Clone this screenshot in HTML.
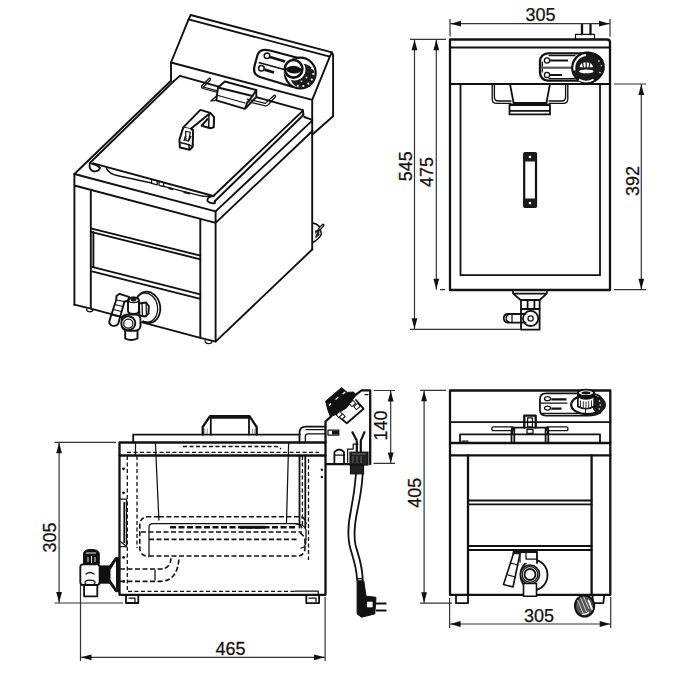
<!DOCTYPE html>
<html><head><meta charset="utf-8"><style>
html,body{margin:0;padding:0;background:#fff;width:700px;height:700px;overflow:hidden}
svg{display:block}
.o{fill:none;stroke:#111;stroke-width:1.8;stroke-linejoin:round;stroke-linecap:round}
.t{fill:none;stroke:#111;stroke-width:1.25;stroke-linejoin:round;stroke-linecap:round}
.d{fill:none;stroke:#333;stroke-width:1.2}
.h{fill:none;stroke:#111;stroke-width:1.6;stroke-dasharray:5 2.5}
.hf{fill:none;stroke:#111;stroke-width:1.3;stroke-dasharray:4 2.5}
.a{fill:#111;stroke:none}
.k{fill:#111;stroke:#111;stroke-width:1}
.iso .o{stroke-width:1.9}
text{font-family:"Liberation Sans",sans-serif;font-size:18px;fill:#111;stroke:#111;stroke-width:0.25}
</style></head><body>
<svg width="700" height="700" viewBox="0 0 700 700">

<!-- ================= TOP VIEW (plan) ================= -->
<g id="plan">
  <path class="o" d="M450 39.5 H607 Q610 39.5 610 42.5 V290 H450 Z" style="stroke-width:2.3"/>
  <path class="o" d="M450 47.5 H610"/>
  <path class="o" d="M450 84 H610"/>
  <path class="o" d="M460.5 84 V275.2 H600 V84"/>
  <!-- plug -->
  <rect class="t" x="575.5" y="34.3" width="19" height="5" />
  <path class="o" d="M582 24.5 V34.3 M590.5 24.5 V34.3" style="stroke-width:2.3"/>
  <!-- control panel -->
  <path class="o" d="M548 53.3 H590 A13.7 13.7 0 0 1 590 80.7 H548 A8 8 0 0 1 540 72.7 V61.3 A8 8 0 0 1 548 53.3 Z" style="stroke-width:2.3"/>
  <path class="t" d="M549 55.5 H575 M549 78.5 H575 M542.3 62 V72"/>
  <circle cx="547" cy="60.5" r="2.6" class="t"/>
  <circle cx="547" cy="75" r="2.6" class="t"/>
  <path d="M550 60.5 H568 M550 75 H562" stroke="#111" stroke-width="2.2"/>
  <path d="M541.5 67.7 H573" stroke="#555" stroke-width="2.2"/>
  <circle cx="587.3" cy="67.8" r="15.2" fill="#1a1a1a" stroke="#111" stroke-width="2"/>
  <path d="M574.6 70.5 A12.8 12.8 0 0 1 586 55.1" fill="none" stroke="#fff" stroke-width="2"/>
  <path d="M579 79.6 Q586.5 83.6 593.5 79.4" fill="none" stroke="#fff" stroke-width="1.8"/>
  <path d="M579.6 67.3 Q580 62.5 586 62.3 Q592.6 62.5 593 67.3 Z" fill="#fff"/>
  <path d="M586.2 62 V67.5 M582.6 63 L583.5 67.5 M589.8 63 L589 67.5" stroke="#1a1a1a" stroke-width="1.2"/>
  <ellipse cx="586.3" cy="71.4" rx="7.2" ry="1.9" fill="#fff"/>
  <path d="M598.5 61.5 L599.5 60.5 M600.8 65.8 H602 M599.5 72 L600.5 73" stroke="#fff" stroke-width="1.1"/>
  <!-- basket handle -->
  <path class="t" style="stroke-width:1.35" d="M492.2 84 V99 Q492.2 103.4 496.6 103.4 H511 M494.4 84 V97 Q494.4 101 498.4 101 H511"/>
  <path class="t" style="stroke-width:1.35" d="M567.8 84 V99 Q567.8 103.4 563.4 103.4 H549 M565.6 84 V97 Q565.6 101 561.6 101 H549"/>
  <path class="o" d="M510 84 L513.6 103 H546.4 L550 84"/>
  <path class="o" d="M509.5 105 V114.4 H550 V105 Z M509.5 110.9 H550 M513.6 103 V105 M546.4 103 V105"/>
  <!-- plan lid handle -->
  <rect x="524.2" y="153" width="11.8" height="54" rx="1" fill="none" stroke="#111" stroke-width="2.2"/>
  <rect x="523.5" y="152.5" width="13" height="9" rx="1" fill="#1a1a1a"/>
  <rect x="523.5" y="198.5" width="13" height="9" rx="1" fill="#1a1a1a"/>
  <circle cx="530" cy="157" r="1.3" fill="#fff"/>
  <circle cx="530" cy="203" r="1.3" fill="#fff"/>
  <!-- drain -->
  <path class="o" d="M513 290 V293.6 H546.8 V290 M513 293.6 L520.7 300 H539.6 L546.8 293.6"/>
  <path class="o" d="M521 300 V309 H539.6 V300 M527.6 300 V309 M534.4 300 V309"/>
  <path class="o" d="M521 309 V329.6 H539.6 V309"/>
  <circle cx="530.6" cy="318.4" r="7.6" class="o"/>
  <circle cx="530.6" cy="318.4" r="2.6" class="t"/>
  <path class="o" d="M525.5 314 H507.5 A4.4 4.4 0 0 0 507.5 322.7 H525.5"/>
  <path class="t" d="M509 314.5 A4 4 0 0 0 509 322.2 M512 314 V322.7"/>
</g>

<!-- plan dimensions -->
<g id="plandim">
  <path class="d" d="M450 19 V36.5 M610 19 V36.5 M450 23.7 H610"/>
  <path class="a" d="M450.5 23.7 L461 20.8 L461 26.6 Z M609.5 23.7 L599 20.8 L599 26.6 Z"/>
  <text x="540.5" y="20.8" text-anchor="middle">305</text>
  <path class="d" d="M410 39.3 H446 M414.5 39.3 V329.3 M436.3 39.3 V289.7 M440 289.7 H445 M410 329.3 H520"/>
  <path class="a" d="M414.5 39.8 L411.6 50.3 L417.4 50.3 Z M414.5 328.8 L411.6 318.3 L417.4 318.3 Z"/>
  <path class="a" d="M436.3 39.8 L433.4 50.3 L439.2 50.3 Z M436.3 289.2 L433.4 278.7 L439.2 278.7 Z"/>
  <text transform="translate(411.5 166.3) rotate(-90)" text-anchor="middle">545</text>
  <text transform="translate(433.2 172) rotate(-90)" text-anchor="middle">475</text>
  <path class="d" d="M614 84 H646 M614 289.7 H646 M641.3 84 V289.7"/>
  <path class="a" d="M641.3 84.5 L638.4 95 L644.2 95 Z M641.3 289.2 L638.4 278.7 L644.2 278.7 Z"/>
  <text transform="translate(639.2 181.1) rotate(-90)" text-anchor="middle">392</text>
</g>

<!-- ================= ISO VIEW ================= -->
<g id="iso" class="iso">
  <!-- back panel -->
  <path class="o" d="M171 80.7 V62.5 L188.6 19.3 L190.7 15 L331.9 52.4 L333.1 55 V116.2 L312.4 134.5"/>
  <path class="o" d="M188.6 19.3 L329.8 56.7 L331.9 52.4 M171 62.5 L312.2 99.9 L329.8 56.7 M312.2 99.9 V249.3"/>
  <!-- worktop -->
  <path class="o" d="M171 80.7 L74.4 174 L215.6 211.4 L312.2 120.6"/>
  <path class="o" d="M74.4 174 V305 M74.4 185.5 L215.6 222.9 L312.4 131 M215.6 211.4 V341.4"/>
  <path class="o" d="M304.3 117 L312.2 119.8"/>
  <!-- cabinet -->
  <path class="o" d="M90.8 189.8 V308.6 M200.3 219 V337.8"/>
  <path class="o" d="M74.4 304.6 L90.8 308.6 L200.3 337.8 L215.6 341.6 L312.4 249.3"/>
  <path class="o" d="M90.8 228.4 L200.3 255.6 M90.8 231.8 L200.3 259.3 M93.4 231.8 V267"/>
  <path class="o" d="M92 266.9 L200.3 294.3 M92 271.4 L200.3 298.9"/>
  <!-- feet -->
  <path class="t" d="M86.5 309 Q86.5 311.5 89.7 311.8 Q93 311.8 93 309.5"/>
  <path class="t" d="M205 340.6 Q205 343.6 208.6 343.7 Q212 343.7 212 341"/>
  <!-- lid -->
  <path class="o" d="M173.6 81.4 L180 75.8 L303 110.1 L303.4 115"/>
  <path class="o" d="M173.6 81.4 L89.8 163"/>
  <path class="o" d="M303 110.6 L213.4 196 M303.4 115 L214.8 201.3"/>
  <path class="o" d="M93.3 163.3 L213.4 196"/>
  <path class="o" d="M89.8 163 Q88.5 169.5 93.3 171.3 Q98.5 172 100 168 M92 163.8 Q97 164.5 100 168"/>
  <path class="o" d="M213.4 196 Q207 196.5 207.4 200.8 Q209 203.5 214.8 203.3 V201.3"/>
  <path class="t" style="stroke-width:1.4" d="M106.5 168.4 Q109 174 118 175.8 L151.6 183 M163.6 186.4 L200 195.6 Q206 197 210 196"/>
  <path class="t" style="stroke-width:1.3" d="M151.6 179.8 V183.3 L157.2 184.8 V181.3 M159 181.8 V185.3 L163.6 186.5 V183"/>
  <path d="M168.5 188 L173 189.2 M183.5 192 L190 193.6" stroke="#111" stroke-width="2"/>
  <!-- lid handle -->
  <path d="M200.4 109.9 L210.3 112.9 L190.6 129.1 L183.3 127.4 Z" fill="#fff" stroke="#111" stroke-width="2" stroke-linejoin="round"/>
  <path d="M210.3 112.9 L214.1 117.1 L213.7 127.4 L210.3 128.3 L201.7 125.7 L208 118.5" fill="none" stroke="#111" stroke-width="2" stroke-linejoin="round"/>
  <path d="M183.3 127.4 L179.4 139.8 L179.9 147.6 L189.7 149.7 L192.7 146.7 L193.1 130 L190.6 129.1" fill="#fff" stroke="#111" stroke-width="2" stroke-linejoin="round"/>
  <path d="M185.6 131.5 L190.3 132.2 L188.6 141 L186 140.5 Z" fill="#fff" stroke="#111" stroke-width="1.2"/>
  <path d="M180 142.5 L188.5 144.5 L189.7 149.7 M188.5 144.5 L192.7 146.7" fill="none" stroke="#111" stroke-width="1.5"/>
  <path d="M184 141 L185.6 136 M188.5 141 L191 136" stroke="#111" stroke-width="1.5"/>
  <path d="M209 114 L208.7 127.6" stroke="#111" stroke-width="1.5"/>
  <!-- basket handle (iso) -->
  <path class="t" d="M201.7 85.8 L209 78.5 M203.3 87 L210.5 79.7 M209 78.5 Q210.5 77.5 210.5 79.7"/>
  <path class="t" d="M201.7 85.8 Q201 88 203 88.5 L219.3 93 M203.3 87 L219.3 91.3"/>
  <path d="M218 87.5 L224.8 81.5 L256.3 90 V97 L245 108.8 L216.3 100.4 Z" fill="#fff"/>
  <path class="o" d="M224.8 81.5 L256.3 90 L252.5 96 L218 87.5 Z"/>
  <path class="o" d="M218 87.5 L216.3 100.4 L245 108.8 L247 103 L252.5 96 M245 108.8 L256.3 97 V90"/>
  <path class="t" d="M216.3 100.4 L210.8 101 L216.5 96 M216.3 95 L245 103"/>
  <path class="t" d="M247.2 99.1 L265.4 103.4 L273.9 95.5 M247.2 101.5 L265.4 105.8 Q267.5 106 268.5 104.5 L275.6 96.5 Q275.5 94.5 273.9 95.5"/>
  <!-- control panel (iso) -->
  <path class="o" style="stroke-width:2.2" d="M302 59 L270 50.5 Q260 47.8 257.5 55 L254.5 66 Q252.5 74.5 260 77 L293 87"/>
  <circle cx="300.3" cy="73.1" r="15.4" fill="#fff" stroke="#111" stroke-width="2.2"/>
  <circle cx="302.6" cy="76" r="12.3" fill="#1c1c1c"/>
  <circle cx="294.6" cy="69.6" r="10.8" fill="#fff"/>
  <circle cx="293.6" cy="68.8" r="8.8" fill="#fff" stroke="#111" stroke-width="2.6"/>
  <path d="M285.5 68.5 Q293.5 63 301.8 69 Q300.5 74 293.5 73.5 Q287 73 285.5 68.5 Z" fill="#111"/>
  <g fill="#fff">
    <circle cx="312.3" cy="68.3" r="1.1"/><circle cx="313.3" cy="74" r="1.1"/><circle cx="311.8" cy="79.5" r="1.1"/>
    <circle cx="308.3" cy="83.6" r="1.1"/><circle cx="303.3" cy="86" r="1.1"/><circle cx="297.8" cy="85.8" r="1.1"/>
    <circle cx="306.5" cy="77.5" r="0.9"/><circle cx="301.5" cy="81.3" r="0.9"/>
  </g>
  <circle cx="267" cy="55.7" r="2.8" class="t" style="stroke-width:1.5"/>
  <circle cx="261.4" cy="68.2" r="2.8" class="t" style="stroke-width:1.5"/>
  <path d="M270 57 L285 61.5 M264.5 69.7 L274 72.5" stroke="#111" stroke-width="2.8"/>
  <path d="M258.7 62.5 L286 70" stroke="#111" stroke-width="1.8"/>
  <!-- plug on side -->
  <path d="M312.6 223 Q317 223.5 319.5 227 L321.5 234 Q319.5 238.5 313 242.5" fill="none" stroke="#111" stroke-width="1.5" stroke-linejoin="round"/>
  <path d="M319.2 229.5 L323 225.2" stroke="#111" stroke-width="3.2" stroke-linecap="round"/>
  <path d="M319.6 229 L322.6 225.7" stroke="#fff" stroke-width="1" stroke-linecap="round"/>
  <path d="M315 230.5 L319 229.5 L319.5 235 L315.5 238.5 Z" fill="#222"/>
  <path d="M313.5 238 L317 232.5" stroke="#fff" stroke-width="0.8"/>
  <!-- drain valve (iso) -->
  <ellipse cx="147.6" cy="307.4" rx="12.6" ry="15.8" transform="rotate(-10 147.6 307.4)" class="o" style="stroke-width:1.8"/>
  <ellipse cx="146.3" cy="307.6" rx="11.2" ry="14.6" transform="rotate(-10 146.3 307.6)" class="t"/>
  <path d="M127 298 L139 298 L149 304 L148 316 L140 323 L138 331 L124 331 L121 320 Z" fill="#fff"/>
  <path class="o" fill="#fff" d="M139 303.5 L146 302.5 L148.8 306 L148.5 313.5 L145 316.5 L139.5 315.5 Z"/>
  <path class="t" d="M142 303 L142.5 316 M146 302.5 L146.5 316.5"/>
  <path class="o" fill="#fff" d="M128 300.5 Q128.5 297.5 133.5 297.5 Q138.5 297.5 139 300.5 V311 Q138.5 314 133.5 314 Q128.5 314 128 311 Z"/>
  <ellipse cx="133.5" cy="300" rx="5.3" ry="2.6" class="t"/>
  <ellipse cx="133.5" cy="299.7" rx="2.4" ry="1.3" class="k"/>
  <path class="o" fill="#fff" d="M121.8 318 Q123 314.5 129 314.5 H136 Q140.5 315 140.5 320 V326 Q140 330.5 135 330.8 H129 Q121.8 330.5 121.8 325 Z"/>
  <circle cx="128.3" cy="323.2" r="7" class="o" style="fill:#fff"/>
  <circle cx="128.3" cy="323.6" r="4.6" class="t"/>
  <path class="o" fill="#fff" d="M125.2 330 V338.5 Q131 341.5 137.5 338.5 V330"/>
  <path class="o" fill="#fff" d="M116.5 296 L119.5 293.8 L129 296.8 L128.5 301 L124.5 301.5 L118.2 323.8 Q116 327 111.5 325.3 Q108.5 323.8 109.5 320.5 L116.2 300 Z"/>
  <path class="t" d="M116.2 300 L124.5 301.5 M114.8 304.5 L122.8 306.5 M113.3 309.5 L121.3 311.5 M111.8 315 L119.8 317"/>
</g>

<!-- ================= SIDE VIEW ================= -->
<g id="side">
  <path class="o" d="M119.5 442.5 H325.5 V594.8 H119.5 Z" style="stroke-width:2.3"/>
  <path class="o" d="M119.5 455.5 H325.5" style="stroke-width:2.3"/>
  <path class="o" d="M133.2 442.5 V434.6 H300"/>
  <path class="t" d="M135.5 442.5 V455.5"/>
  <!-- basket handle -->
  <path class="o" d="M202.7 434.6 V427 L210 416.2 H249.5 L256.7 427 V434.6" style="stroke-width:2.3"/>
  <path d="M210.5 417.8 H249" stroke="#111" stroke-width="2"/>
  <path class="o" d="M210.8 418 V434.6 M249 418 V434.6"/>
  <path d="M204.8 428.5 V434 M207.3 428.5 V434 M252.5 428.5 V434 M254.8 428.5 V434" stroke="#777" stroke-width="0.8"/>
  <!-- hidden lines -->
  <path class="hf" d="M183 446.5 H276 Q279 446.5 281 449"/>
  <path class="hf" d="M127 452.3 H319"/>
  <path class="hf" d="M127.3 456 V591 M137 456 V548"/>
  <path class="hf" d="M128 591.4 H295"/>
  <path class="t" d="M295 591.2 H318.2 V595"/>
  <!-- basket sides -->
  <path class="t" d="M155.4 443 L158.9 520"/>
  <path class="t" d="M288.6 443.4 L286.5 522.6"/>
  <!-- basket bottom hidden -->
  <path class="h" d="M158.9 516.8 H148 Q140 517 139.8 525 V548 Q140 556 149 556.5"/>
  <path class="h" d="M158.9 516.8 H300 Q306 517.5 306 524"/>
  <path class="t" d="M149 556 V527 Q149 523.6 153 523.6 H296 Q301 523.8 302 528"/>
  <path class="h" d="M149 556 H298 Q304 555.5 305 549 V540 Q304 535 300 533"/>
  <path class="h" d="M141 532 H302"/>
  <path class="h" d="M149 539.4 H298"/>
  <path d="M170 527.3 H296" stroke="#111" stroke-width="2.4" stroke-dasharray="6 2.5"/>
  <path d="M240 527.3 H265" stroke="#111" stroke-width="3"/>
  <!-- drain pipe hidden -->
  <path class="h" d="M120 569 H160 Q171 569 171 557"/>
  <path class="h" d="M120 581.4 H160 Q178 581.4 179 557"/>
  <path class="t" d="M155 570 V580"/>
  <!-- dots -->
  <circle cx="123.5" cy="468.8" r="1.4" class="a"/>
  <circle cx="123.5" cy="492.8" r="1.4" class="a"/>
  <circle cx="123.6" cy="557.4" r="1.4" class="a"/>
  <circle cx="123.6" cy="581.4" r="1.4" class="a"/>
  <path class="t" d="M120 499 H126.5 V546.5 H120"/>
  <path d="M124.3 502 V543" stroke="#111" stroke-width="1.8"/>
  <path class="t" d="M121 542 L126 546"/>
  <!-- feet -->
  <path class="o" d="M126 595 V603 H138.3 V595"/>
  <path class="t" d="M129 598 H135 V602"/>
  <path class="o" d="M306.3 595 V603.1 H319.1 V595"/>
  <path class="t" d="M309 598 H316 V602"/>
  <!-- heater tube -->
  <path class="o" d="M299.5 442.5 V433 Q299.5 426.7 306 426.7 H325.5"/>
  <path class="t" d="M305.3 442.5 V436 Q305.3 433.8 308 433.8 H325.5 M306 429.5 H325.5"/>
  <path class="o" d="M299.5 455.5 V527.7 M305.3 455.5 V527.7"/>
  <path class="hf" d="M302.4 456 V525"/>
  <path class="hf" d="M308.5 459 V560"/>
  <path class="t" d="M296 524 Q305 524 306 530 V540 Q306 548 301 548"/>
  <!-- drain valve -->
  <path class="k" d="M83.5 564 V554 Q83.5 549.4 91 549.4 Q99.3 549.4 99.3 554 V564 Z"/>
  <path d="M86 553 H96 M88 557 V562 M91.5 556 V563 M95 557 V562" stroke="#fff" stroke-width="0.9"/>
  <path class="o" d="M80.3 567 Q80.3 564.3 83 564.3 H97 Q99.6 564.3 99.6 567 V582 Q99.6 585 97 585 H83 Q80.3 585 80.3 582 Z"/>
  <ellipse cx="90" cy="582.5" rx="5" ry="2.5" class="t"/>
  <path class="t" d="M86 574 Q90 571 94 574"/>
  <path class="o" d="M84.1 585 V596.3 H97.3 V585"/>
  <rect x="99.6" y="565.4" width="10.8" height="18.3" class="a"/>
  <path class="k" d="M109.5 566 L115.6 557.4 H119.5 V591.7 H115.6 L109.5 583 Z"/>
  <path d="M110.5 570 L116 561 V588 L110.5 580 Z" fill="#fff"/>
  <!-- control box -->
  <path class="o" d="M325.5 442.5 V421.5 L331 416.5 M355.2 395.2 L361.6 390.4 H370.2 V464.2 M326 464.2 H349.6" style="stroke-width:2.3"/>
  <path class="k" d="M325.6 401.2 L341.6 387.6 L347.2 392.4 L353.6 392 L356 395.2 L346.4 408 L336 414.4 L330.4 416.8 L328 410.4 Z"/>
  <path class="o" d="M356 400 L363.6 408.8 L346.8 423.2 L336 414.4"/>
  <path d="M335.5 399.5 L338.3 397 M342.6 394 L345.4 392 M329 405.5 L331 403.5" stroke="#fff" stroke-width="1.3"/>
  <g fill="#fff" stroke="#111" stroke-width="1">
    <rect x="350" y="401.5" width="5" height="4" transform="rotate(-40 352.5 403.5)"/>
    <rect x="354.5" y="404.5" width="5" height="4" transform="rotate(-40 357 406.5)"/>
    <rect x="336.8" y="412.5" width="5" height="4" transform="rotate(-40 339.3 414.5)"/>
    <rect x="340" y="415" width="4.5" height="3.5" transform="rotate(-40 342.2 416.7)"/>
  </g>
  <path class="t" d="M365 394.5 H368"/>
  <rect x="328" y="430.2" width="10.8" height="4.8" class="t"/>
  <rect x="332" y="431" width="6.8" height="3.4" class="a"/>
  <path class="o" d="M334.4 462.6 V452 Q339.2 447 344 452 V462.6"/>
  <path class="t" d="M334.4 455 H344"/>
  <path class="t" d="M347.6 462 V449 H353.2 V444.2 H358"/>
  <rect x="350" y="452.2" width="18" height="12.8" fill="#222" stroke="#111" stroke-width="1.2"/>
  <rect x="350.5" y="465" width="13" height="8.8" fill="#222" stroke="#111" stroke-width="1.2"/>
  <path d="M352 454 H366 M353 456 V463 M357 456 V463 M361 456 V463" stroke="#777" stroke-width="0.8" fill="none"/>
  <path d="M352 431.4 L356.8 440.6 M364.8 431.4 L360.8 440.6 M356.8 440.6 V452 M360.8 440.6 V452" stroke="#111" stroke-width="2.2" fill="none"/>
  <circle cx="321.8" cy="469.8" r="1.2" class="a"/>
  <circle cx="321.8" cy="477" r="1.2" class="a"/>
  <!-- cord -->
  <path class="o" d="M356 474 C355 486 353.8 496 351 510 C348 524 347.5 535 349.5 545 C352 556 356.5 565 357.1 580"/>
  <path class="o" d="M362.7 474 C362 486 360.5 496 357.5 510 C354.5 524 353.5 535 355.5 545 C358.5 556 362.5 565 362.7 580"/>
  <path class="t" d="M357.1 578.5 H362.7"/>
  <path class="k" d="M357.1 580.7 H363.8 L366 596.2 L376 597.3 L374.8 613.9 L361.6 617.2 L357.1 613.9 Z"/>
  <rect x="367" y="601.7" width="5.6" height="5.6" fill="#fff"/>
  <path d="M376 603.6 H386.5 M376 610.6 H386.5" stroke="#111" stroke-width="2"/>
</g>

<!-- ================= FRONT VIEW ================= -->
<g id="front">
  <path class="o" d="M450 390.5 H610.3 V594.8 H450 Z" style="stroke-width:2.3"/>
  <path class="o" d="M450 422.1 H610.3"/>
  <path class="o" d="M450 443 H610.3 M450 455.4 H610.3" style="stroke-width:2.3"/>
  <path class="o" d="M468 455.4 V594.8 M591.6 455.4 V594.8" style="stroke-width:2.3"/>
  <path class="o" d="M468 500.5 H591.6 M468 504.4 H591.6 M468 546 H591.6 M468 550 H591.6"/>
  <!-- lid -->
  <path class="o" d="M460 443 V434.3 H600 V443"/>
  <path class="t" d="M462 441 H468"/>
  <!-- basket handle -->
  <rect x="491.8" y="426.8" width="22" height="3.8" rx="1.9" fill="#fff" stroke="#111" stroke-width="1.3"/>
  <path class="o" d="M511.5 430 V443 M514.3 428 V443"/>
  <rect x="546" y="426.8" width="22" height="3.8" rx="1.9" fill="#fff" stroke="#111" stroke-width="1.3"/>
  <path class="o" d="M545.6 428 V443 M548.3 430 V443"/>
  <path class="o" d="M524.3 427.6 V415.7 H535.7 V427.6" style="stroke-width:2.3"/>
  <rect class="t" x="527.6" y="417.8" width="4.8" height="9"/>
  <path class="o" d="M512 434.3 V427.6 H548 V434.3"/>
  <rect class="t" x="527" y="429.3" width="6" height="4"/>
  <!-- control panel -->
  <path class="o" d="M546 393.3 H588 Q603.4 393.3 603.4 404.5 Q603.4 415.6 588 415.6 H546 Q539.9 415.6 539.9 409.5 V399.4 Q539.9 393.3 546 393.3 Z"/>
  <path class="t" d="M541 413.4 H600 M541 403 H567"/>
  <ellipse cx="547.5" cy="398.7" rx="3" ry="2" class="t"/>
  <ellipse cx="547.5" cy="408" rx="3" ry="2" class="t"/>
  <path d="M551.3 399.3 H566.5 M551.3 408.7 H561.5" stroke="#111" stroke-width="2.2"/>
  <ellipse cx="587.1" cy="404.7" rx="15.9" ry="9.4" fill="#fff" stroke="#111" stroke-width="2.2"/>
  <path d="M594 396.2 A15.9 9.4 0 0 1 597 413 Q590 410 595 404 Z" fill="#1a1a1a"/>
  <path d="M598 398.5 A13 7.5 0 0 1 598.5 411" fill="none" stroke="#1a1a1a" stroke-width="4"/>
  <g fill="#fff"><circle cx="599.5" cy="401" r="0.8"/><circle cx="600.3" cy="405" r="0.8"/><circle cx="599.3" cy="409" r="0.8"/></g>
  <path d="M577.9 393 V406.5 Q586 411 594.2 406.5 V393" fill="#fff" stroke="#111" stroke-width="1.7"/>
  <path d="M577.9 393.5 Q586 399.5 594.2 393.5 V397.5 Q586 402 577.9 397.5 Z" fill="#111"/>
  <ellipse cx="586" cy="392.8" rx="8.1" ry="3.2" fill="#fff" stroke="#111" stroke-width="1.9"/>
  <ellipse cx="586" cy="392.8" rx="4.6" ry="1.6" fill="#111"/>
  <path d="M580.5 400.5 V407.5 M583.3 401.3 V408.8 M586 401.5 V409.3 M588.7 401.3 V408.8 M591.5 400.5 V407.5" stroke="#333" stroke-width="1"/>
  <path d="M585.5 409 V415" stroke="#111" stroke-width="1"/>
  <!-- feet -->
  <path class="o" d="M456 594.8 V603.2 H468 V594.8"/>
  <path class="o" d="M592.5 594.8 L593 603.2 H603.3 L604.3 594.8"/>
  <!-- caster -->
  <ellipse cx="584.6" cy="606" rx="9.6" ry="10.6" fill="#555" stroke="#111" stroke-width="2"/>
  <path d="M577.5 600 L583 613 M580.5 597.5 L586.5 612 M583.5 596.5 L589 609" stroke="#ddd" stroke-width="0.9"/>
  <path d="M588.5 600.5 L592 609" stroke="#fff" stroke-width="1.8" stroke-linecap="round"/>
  <path d="M583 614.3 Q586.5 614.3 588.5 612.5" stroke="#fff" stroke-width="1.6" fill="none" stroke-linecap="round"/>
  <!-- drain valve -->
  <ellipse cx="534" cy="575" rx="13.5" ry="15" class="o"/>
  <path d="M513.5 552 H537 V563 H513.5 Z" fill="#fff"/>
  <path class="o" d="M513.5 563 V552 H537 V563"/>
  <path class="t" d="M520 552 V562 M526 552 V559 H537"/>
  <circle cx="530" cy="574.5" r="9.5" fill="#fff" stroke="#111" stroke-width="1.6"/>
  <circle cx="530" cy="574.5" r="7.8" class="t"/>
  <circle cx="530" cy="574.5" r="5.5" class="o"/>
  <path d="M513.5 553.5 L520 553.5 L513 587 L503.5 584.5 Z" fill="#fff" stroke="#111" stroke-width="1.6" stroke-linejoin="round"/>
  <path class="t" d="M510.5 563 L518 565 M508 575 L515.5 577"/>
  <path d="M523.5 583.5 H536.5 V596.3 H523.5 Z" fill="#fff" stroke="#111" stroke-width="1.6"/>
</g>

<!-- front dimensions -->
<g id="frontdim">
  <path class="d" d="M420 390.3 H446 M420 603.2 H452 M424.1 390.3 V603.2"/>
  <path class="a" d="M424.1 390.8 L421.2 401.3 L427 401.3 Z M424.1 602.7 L421.2 592.2 L427 592.2 Z"/>
  <text transform="translate(420.6 492.7) rotate(-90)" text-anchor="middle">405</text>
  <path class="d" d="M449.6 598 V628 M610.7 597 V628 M449.6 624 H610.7"/>
  <path class="a" d="M450.1 624 L460.6 621.1 L460.6 626.9 Z M610.2 624 L599.7 621.1 L599.7 626.9 Z"/>
  <text x="539.1" y="621.6" text-anchor="middle">305</text>
</g>

<!-- side dimensions -->
<g id="sidedim">
  <path class="d" d="M54.5 442.3 H116 M59.1 442.3 V603 M54.5 603 H123"/>
  <path class="a" d="M59.1 442.8 L56.2 453.3 L62 453.3 Z M59.1 602.5 L56.2 592 L62 592 Z"/>
  <text transform="translate(55.6 537.5) rotate(-90) scale(1 1.05)" text-anchor="middle">305</text>
  <path class="d" d="M80.5 585 V661 M325.1 597 V661 M80.5 657.3 H325.1"/>
  <path class="a" d="M81 657.3 L91.5 654.4 L91.5 660.2 Z M324.6 657.3 L314.1 654.4 L314.1 660.2 Z"/>
  <text transform="translate(230.6 654.6) scale(1 1.05)" text-anchor="middle">465</text>
  <path class="d" d="M373.6 390.5 H395 M373.6 463.4 H395 M390.7 390.5 V463.4"/>
  <path class="a" d="M390.7 391 L387.8 401.5 L393.6 401.5 Z M390.7 462.9 L387.8 452.4 L393.6 452.4 Z"/>
  <text transform="translate(386.8 425.5) rotate(-90)" text-anchor="middle">140</text>
</g>

</svg>
</body></html>
